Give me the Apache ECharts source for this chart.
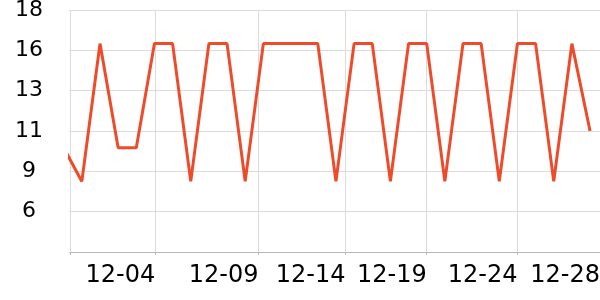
<!DOCTYPE html>
<html>
<head>
<meta charset="utf-8">
<script src="https://cdn.jsdelivr.net/npm/echarts@6/dist/echarts.min.js"></script>
<style>
html,body{margin:0;padding:0;background:#fff;}
#chart{width:600px;height:300px;}
</style>
</head>
<body>
<div id="chart"></div>
<script>
// ---- data ----
const dates = [
  '2023-11-29','2023-11-30','2023-12-01','2023-12-02','2023-12-03','2023-12-04',
  '2023-12-05','2023-12-06','2023-12-07','2023-12-08','2023-12-09','2023-12-10',
  '2023-12-11','2023-12-12','2023-12-13','2023-12-14','2023-12-15','2023-12-16',
  '2023-12-17','2023-12-18','2023-12-19','2023-12-20','2023-12-21','2023-12-22',
  '2023-12-23','2023-12-24','2023-12-25','2023-12-26','2023-12-27','2023-12-28'
];
const values = [
  10, 8, 16.2, 10, 10, 16.2,
  16.2, 8, 16.2, 16.2, 8, 16.2,
  16.2, 16.2, 16.2, 8, 16.2, 16.2,
  8, 16.2, 16.2, 8, 16.2, 16.2,
  8, 16.2, 16.2, 8, 16.2, 11
];
// x axis range and tick positions (axis values, date-times)
const xMin = '2023-11-29 08:20';
const xMax = '2023-12-28 13:10';
const xTickTimes = ['2023-12-04 01:00','2023-12-09 17:30','2023-12-14 12:40','2023-12-19 00:00','2023-12-24 00:00'];
const xLabelTimes = ['2023-12-04 01:00','2023-12-09 17:30','2023-12-14 12:40','2023-12-19 00:00','2023-12-24 00:00','2023-12-28 13:10'];
// y axis range and tick values
const yMin = 3.8;
const yMax = 18.2;
const yTickValues = [3.8, 6.2, 8.6, 11, 13.4, 15.8, 18.2];
const yLabelValues = [6.2, 8.6, 11, 13.4, 15.8, 18.2];

function toTime(s) {
  const parts = s.split(' ');
  const d = parts[0].split('-').map(Number);
  let hh = 0, mm = 0;
  if (parts[1]) { const t = parts[1].split(':').map(Number); hh = t[0]; mm = t[1]; }
  return new Date(d[0], d[1] - 1, d[2], hh, mm).getTime();
}
function pad(n) { return (n < 10 ? '0' : '') + n; }

const seriesData = dates.map((d, i) => [toTime(d), values[i]]);

const chart = echarts.init(document.getElementById('chart'), null, {renderer: 'canvas'});
chart.setOption({
  animation: false,
  textStyle: {fontFamily: 'DejaVu Sans'},
  grid: {left: 70, right: 0, top: 10, bottom: 48, containLabel: false, outerBoundsMode: 'none'},
  xAxis: {
    type: 'value',
    min: toTime(xMin),
    max: toTime(xMax),
    axisLine: {show: true, lineStyle: {color: '#b8b8b8', width: 1}},
    axisTick: {show: true, length: 3, lineStyle: {color: '#b8b8b8'},
      customValues: [toTime(xMin)].concat(xTickTimes.map(toTime)).concat([toTime(xMax)])},
    splitLine: {show: true, lineStyle: {color: '#dcdcdc', width: 1}},
    axisLabel: {
      customValues: xLabelTimes.map(toTime),
      align: 'right',
      margin: 12,
      color: '#000',
      fontSize: 24,
      fontFamily: 'DejaVu Sans',
      formatter: function (v) { const d = new Date(v); return pad(d.getMonth() + 1) + '-' + pad(d.getDate()); }
    }
  },
  yAxis: {
    type: 'value',
    min: yMin,
    max: yMax,
    axisLine: {show: false},
    axisTick: {show: true, length: 1, lineStyle: {color: '#dcdcdc'}, customValues: yTickValues},
    splitLine: {show: true, lineStyle: {color: '#dcdcdc', width: 1}},
    axisLabel: {
      customValues: yLabelValues,
      align: 'center',
      margin: 41,
      padding: [3, 0, 0, 0],
      color: '#000',
      fontSize: 22,
      fontFamily: 'DejaVu Sans',
      formatter: function (v) { return String(Math.round(v)); }
    }
  },
  series: [{
    type: 'line',
    data: seriesData,
    showSymbol: false,
    symbol: 'none',
    clip: true,
    lineStyle: {color: '#ee4b2b', width: 3},
    itemStyle: {color: '#ee4b2b'}
  }]
});
</script>
</body>
</html>
